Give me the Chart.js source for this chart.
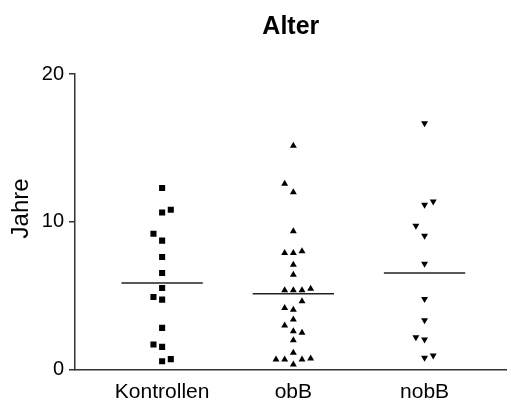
<!DOCTYPE html>
<html>
<head>
<meta charset="utf-8">
<script src="https://cdn.jsdelivr.net/npm/chart.js@4.4.1/dist/chart.umd.min.js"></script>
<style>
  html, body { margin: 0; padding: 0; background: #fff; }
  #wrap { width: 511px; height: 402px; }
</style>
</head>
<body>
<div id="wrap"><canvas id="chart"></canvas></div>
<script>
const groups = ["Kontrollen", "obB", "nobB"];

// Jahre
const kontrollen = [12.28, 10.63, 10.81, 9.19, 8.72, 7.61, 6.53, 5.52, 4.91, 4.73, 2.82, 1.69, 1.53, 0.56, 0.70];
const obB = [15.14, 12.57, 12.0, 9.35, 7.88, 7.88, 8.0, 7.09, 6.42, 5.36, 5.36, 5.36, 5.47, 4.62,
  4.17, 4.05, 3.38, 2.97, 2.59, 2.48, 1.98, 0.68, 0.68, 1.13, 0.68, 0.74, 0.34];
const nobB = [16.67, 11.15, 11.37, 9.73, 9.05, 7.16, 4.78, 3.33, 2.18, 2.03, 0.79, 0.95];

// dot column of each point (scatter spread around the group centre)
const kontrollenCol = [0, 0, 1, -1, 0, 0, 0, 0, -1, 0, 0, -1, 0, 0, 1];
const obBCol = [0, -1, 0, 0, -1, 0, 1, 0, 0, -1, 0, 1, 2, 1, -1, 0, 0, -1, 0, 1, 0, -2, -1, 0, 1, 2, 0];
const nobBCol = [0, 0, 1, -1, 0, 0, 0, 0, -1, 0, 0, 1];

const means = [5.86, 5.13, 6.53];
const yTicks = [0, 10, 20];

const spread = 0.066;
const halfLine = 0.31;
const font = "'Liberation Sans', Arial, sans-serif";

const toPoints = (vals, cols, g) => vals.map((v, i) => ({ x: g + 1 + cols[i] * spread, y: v }));

const dots = (data, style, rot) => ({
  type: "scatter",
  data,
  pointStyle: style,
  rotation: rot,
  pointRadius: style === "rect" ? 4.3 : 4,
  pointHoverRadius: 4,
  backgroundColor: "#000",
  borderWidth: 0,
});

const meanLines = means.map((m, g) => ({
  type: "line",
  data: [{ x: g + 1 - halfLine, y: m }, { x: g + 1 + halfLine, y: m }],
  borderColor: "#222",
  borderWidth: 1.5,
  pointRadius: 0,
  showLine: true,
}));

new Chart(document.getElementById("chart"), {
  type: "scatter",
  data: {
    datasets: [
      dots(toPoints(kontrollen, kontrollenCol, 0), "rect", 0),
      dots(toPoints(obB, obBCol, 1), "triangle", 0),
      dots(toPoints(nobB, nobBCol, 2), "triangle", 180),
      ...meanLines,
    ],
  },
  options: {
    responsive: true,
    maintainAspectRatio: false,
    animation: false,
    layout: { padding: 0 },
    plugins: {
      legend: { display: false },
      tooltip: { enabled: false },
      title: {
        display: true,
        text: "Alter",
        fullSize: false,
        color: "#000",
        font: { family: font, size: 25, weight: "bold" },
        padding: { top: 12, bottom: 32 },
      },
    },
    scales: {
      x: {
        type: "linear",
        min: 0.336,
        max: 3.626,
        afterFit: (s) => { s.height = 32.5; },
        afterBuildTicks: (s) => { s.ticks = groups.map((_, i) => ({ value: i + 1 })); },
        grid: { display: false },
        border: { display: true, color: "#333", width: 1.5 },
        ticks: {
          color: "#000",
          padding: 2,
          maxRotation: 0,
          font: { family: font, size: 21 },
          callback: (v) => groups[v - 1] ?? "",
        },
      },
      y: {
        min: 0,
        max: 20,
        afterFit: (s) => { s.width = 75; },
        afterBuildTicks: (s) => { s.ticks = yTicks.map((v) => ({ value: v })); },
        grid: { display: true, drawOnChartArea: false, drawTicks: true, tickLength: 6, color: "#333", lineWidth: 1.5 },
        border: { display: true, color: "#333", width: 1.5 },
        ticks: { color: "#000", padding: 5, font: { family: font, size: 20 } },
        title: {
          display: true,
          text: "    Jahre",
          color: "#000",
          padding: { top: 7, bottom: 0 },
          font: { family: font, size: 24 },
        },
      },
    },
  },
});
</script>
</body>
</html>
